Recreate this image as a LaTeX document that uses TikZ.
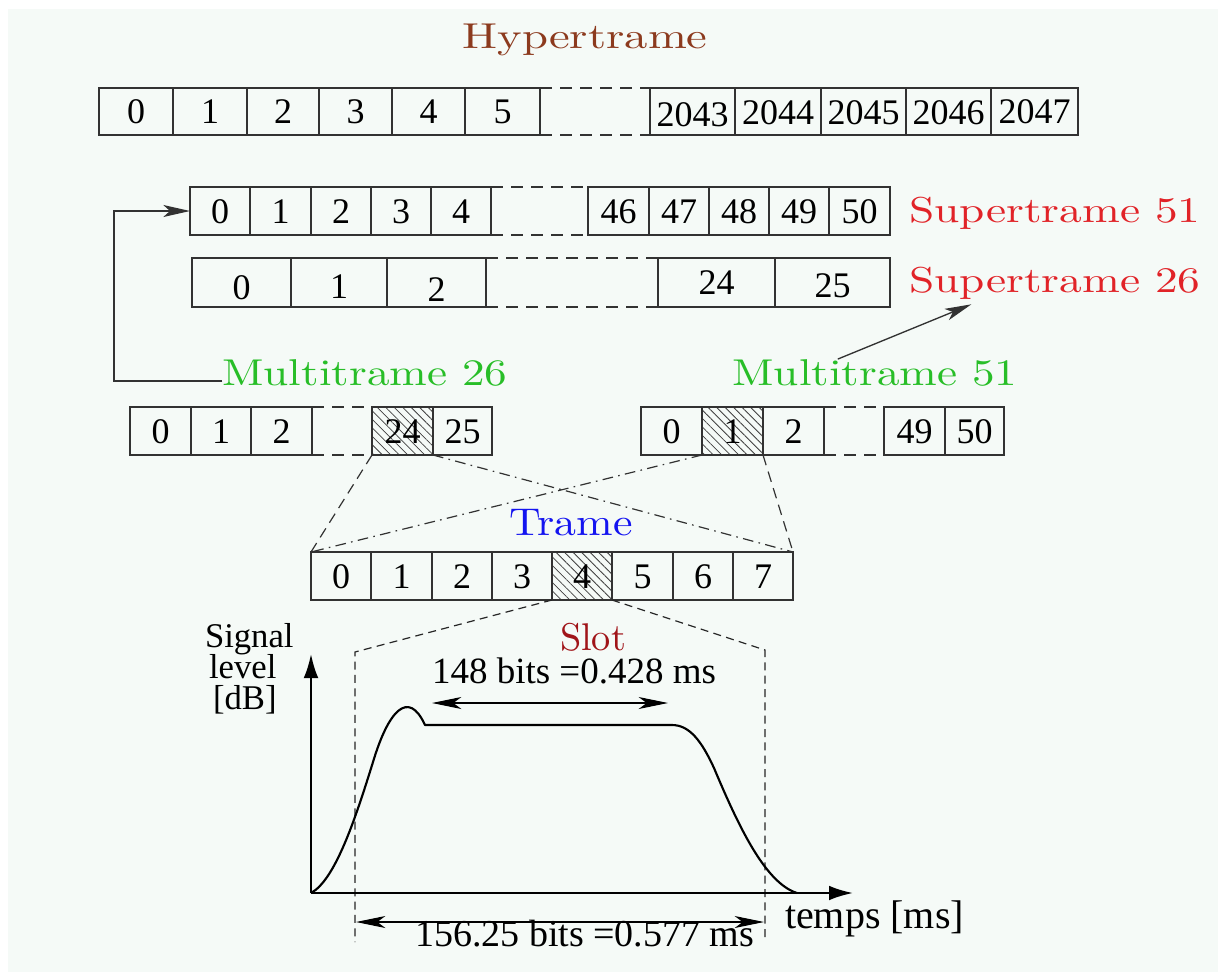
\documentclass[tikz,border=0pt]{standalone}
\usepackage{fontspec}
\usepackage{graphicx}
\newfontfamily\tms{Liberation Serif}
\usetikzlibrary{arrows.meta,patterns.meta,backgrounds}
\definecolor{bgc}{RGB}{245,250,247}
\definecolor{hyperc}{RGB}{140,58,30}
\definecolor{superc}{RGB}{225,35,40}
\definecolor{multic}{RGB}{40,190,40}
\definecolor{tramec}{RGB}{20,20,240}
\definecolor{slotc}{RGB}{160,20,25}
\definecolor{linec}{RGB}{50,50,50}
\newcommand\lab[3]{\scalebox{#1}[#2]{\fontsize{10pt}{10pt}\selectfont #3}}
\newcommand\cellrow[3]{%
  \foreach \a/\b/\t/\n/\s in {#3}{%
    \pgfmathsetmacro\w{(\b-\a)*0.75}%
    \pgfmathsetmacro\h{(#2-#1)*0.75}%
    \node[cell,minimum width=\w pt,minimum height=\h pt] (\n) at ({(\a+\b)/2},{(#1+#2)/2}) {\raisebox{-\s pt}{\t}};
  }}
\tikzset{
  cell/.style={draw=linec,line width=1.1pt,inner sep=0pt,outer sep=0pt,
    font=\tms\fontsize{27pt}{27pt}\selectfont,text height=18pt,text depth=0pt},
  gap/.style={draw=linec,line width=1.1pt,dash pattern=on 9pt off 6pt},
  lbl/.style={inner sep=0pt,outer sep=0pt,anchor=base},
  tlbl/.style={inner sep=0pt,outer sep=0pt,anchor=base west,text=black},
  hatch/.style={pattern={Lines[angle=-45,distance=4.5pt,line width=0.6pt]},pattern color=black!75},
  dsh/.style={draw=linec,line width=0.9pt,dash pattern=on 8pt off 5pt},
  dshdot/.style={draw=linec,line width=0.9pt,dash pattern=on 8pt off 4pt on 1.2pt off 4pt},
  slotdash/.style={draw=black!85,line width=0.9pt,dash pattern=on 6pt off 4pt},
  arr/.style={draw=linec,line width=1pt,-{Stealth[length=20pt,width=9pt,inset=5pt]}},
  axis/.style={draw=black,line width=1.6pt,-{Latex[length=18pt,width=11pt]}},
  dim/.style={draw=black,line width=0.8pt,{Stealth[length=22pt,width=9pt,inset=6pt]}-{Stealth[length=22pt,width=9pt,inset=6pt]}},
}
\begin{document}
\begin{tikzpicture}[x=0.75pt,y=-0.75pt]
\useasboundingbox (0,0) rectangle (1218,972);
\begin{scope}[on background layer]
  \fill[bgc] (8,9) rectangle (1218,972);
\end{scope}

% Hypertrame
\node[lbl,text=hyperc] (hyper) at (585,48) {\lab{3.5}{2.7}{Hypertrame}};
\cellrow{88}{135}{99/173/0/h0/0,173/247/1/h1/0,247/319/2/h2/0,319/392/3/h3/0,392/465/4/h4/0,465/540/5/h5/0,
  650/735/2043/h2043/2,735/821/2044/h2044/1,821/906/2045/h2045/1,906/991/2046/h2046/1,991/1078/2047/h2047/0}
\draw[gap] (h5.north east) -- (h2043.north west);
\draw[gap] (h5.south east) -- (h2043.south west);

% Supertrame 51
\cellrow{187}{235}{190/250/0/sa0/0,250/311/1/sa1/0,311/371/2/sa2/0,371/431/3/sa3/0,431/491/4/sa4/0,
  588/649/46/sa46/0,649/709/47/sa47/0,709/769/48/sa48/0,769/829/49/sa49/0,829/890/50/sa50/0}
\draw[gap] (sa4.north east) -- (sa46.north west);
\draw[gap] (sa4.south east) -- (sa46.south west);
\node[lbl,text=superc] (sup51) at (1055,222) {\lab{3.4}{2.7}{Supertrame 51}};

% Supertrame 26
\cellrow{258}{307}{192/291/0/sb0/4,291/387/1/sb1/3,387/486/2/sb2/5,658/775/24/sb24/0,775/890/25/sb25/2}
\draw[gap] (sb2.north east) -- (sb24.north west);
\draw[gap] (sb2.south east) -- (sb24.south west);
\node[lbl,text=superc] (sup26) at (1055,292) {\lab{3.4}{2.7}{Supertrame 26}};

% Multitrames
\node[lbl,text=multic] (mul26) at (365,385) {\lab{3.39}{2.8}{Multitrame 26}};
\node[lbl,text=multic] (mul51) at (875,385) {\lab{3.39}{2.8}{Multitrame 51}};
\begin{scope}[on background layer]
  \fill[hatch] (372,407) rectangle (433,455);
  \fill[hatch] (702,407) rectangle (763,455);
  \fill[hatch] (552,552) rectangle (612,600);
\end{scope}
\cellrow{407}{455}{130/191/0/ma0/0,191/251/1/ma1/0,251/312/2/ma2/0,372/433/24/ma24/0,433/492/25/ma25/0}
\draw[gap] (ma2.north east) -- (ma24.north west);
\draw[gap] (ma2.south east) -- (ma24.south west);
\cellrow{407}{455}{641/702/0/mb0/0,702/763/1/mb1/0,763/824/2/mb2/0,884/945/49/mb49/0,945/1004/50/mb50/0}
\draw[gap] (mb2.north east) -- (mb49.north west);
\draw[gap] (mb2.south east) -- (mb49.south west);

% connectors multitrame -> supertrame
\draw[arr] ([yshift=3pt]mul26.base west) -| ([xshift=-57pt]sa0.west) -- (sa0.west);
\draw[arr] ([xshift=79pt]mul51.north west) -- ([xshift=46.5pt,yshift=-4pt]sup26.south west);

% Trame
\node[lbl,text=tramec] (trame) at (571,535) {\lab{3.29}{2.9}{Trame}};
\cellrow{552}{600}{311/371/0/t0/0,371/432/1/t1/0,432/492/2/t2/0,492/552/3/t3/0,552/612/4/t4/0,612/673/5/t5/0,673/733/6/t6/0,733/793/7/t7/0}
\draw[dsh] (ma24.south west) -- (t0.north west);
\draw[dshdot] (ma24.south east) -- (t7.north east);
\draw[dshdot] (mb1.south west) -- (t0.north west);
\draw[dsh] (mb1.south east) -- (t7.north east);

% Slot
\node[lbl,text=slotc] (slot) at (593,650) {\lab{2.87}{2.9}{Slot}};
\coordinate (sl) at (355,652);
\coordinate (sr) at (765,650);
\coordinate (slb) at (355,942);
\coordinate (srb) at (765,942);
\draw[slotdash] (t4.south west) -- (sl) -- (slb);
\draw[slotdash] (t4.south east) -- (sr) -- (srb);

% axes
\coordinate (O) at (311,893);
\coordinate (ytip) at (311,654);
\coordinate (xtip) at (853,893);
\draw[axis] (O) -- (ytip);
\draw[axis] (O) -- (xtip);
\draw[black,line width=1.6pt,line join=round] (O) .. controls (335,880) and (355,820) .. (373,762)
  .. controls (388,712) and (408,688) .. (425,725) -- (672,725)
  .. controls (690,725) and (702,742) .. (714,768)
  .. controls (738,825) and (765,883) .. (797,893);

% dimensions
\coordinate (a1) at (432,703);
\coordinate (a2) at (668,703);
\draw[dim] (a1) -- (a2);
\coordinate (b1) at (356,922);
\coordinate (b2) at (764,922);
\draw[dim] (b1) -- (b2);

\node[tlbl] (sig1) at (205,647) {\tms\fontsize{26pt}{26pt}\selectfont Signal};
\node[tlbl] (sig2) at (209,678) {\tms\fontsize{26pt}{26pt}\selectfont level};
\node[tlbl] (sig3) at (213,709) {\tms\fontsize{26pt}{26pt}\selectfont [dB]};
\node[tlbl] (bits148) at (432,683) {\tms\fontsize{27.75pt}{27.75pt}\selectfont 148 bits =0.428 ms};
\node[tlbl] (bits156) at (415,946) {\tms\fontsize{28.5pt}{28.5pt}\selectfont 156.25 bits =0.577 ms};
\node[tlbl] (temps) at (785,928) {\tms\fontsize{30pt}{30pt}\selectfont temps [ms]};
\end{tikzpicture}
\end{document}
